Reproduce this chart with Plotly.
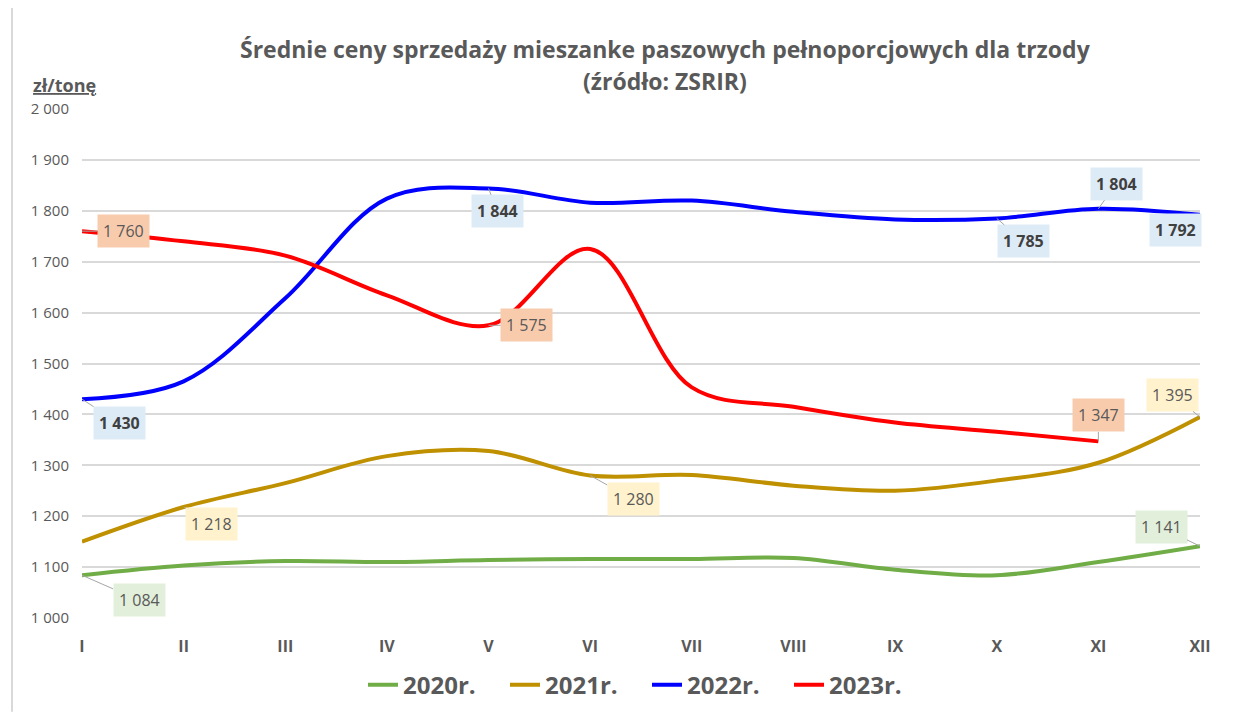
import plotly.graph_objects as go

months = ["I", "II", "III", "IV", "V", "VI", "VII", "VIII", "IX", "X", "XI", "XII"]
y2020 = [1084, 1103, 1112, 1110, 1114, 1116, 1116, 1118, 1095, 1084, 1110, 1141]
y2021 = [1150, 1218, 1265, 1318, 1328, 1280, 1281, 1260, 1250, 1270, 1305, 1395]
y2022 = [1430, 1465, 1628, 1824, 1844, 1816, 1820, 1798, 1783, 1785, 1804, 1792]
y2023 = [1760, 1740, 1712, 1634, 1575, 1725, 1453, 1415, 1384, 1366, 1347]

series = [
    ("2020r.", y2020, "#70AD47"),
    ("2021r.", y2021, "#BF9000"),
    ("2022r.", y2022, "#0000FF"),
    ("2023r.", y2023, "#FF0000"),
]

# labelled points: (series index, month index, ax, ay)
label_specs = [
    (0, 0, 57, 25), (0, 11, -39, -19),
    (1, 1, 28, 17), (1, 5, 43, 24), (1, 11, -28, -22),
    (2, 0, 37, 24), (2, 4, 9, 23), (2, 9, 27, 23), (2, 10, 18, -25), (2, 11, -25, 15),
    (3, 0, 41, 0), (3, 4, 38, 0), (3, 10, 0, -26),
]
label_bg = ["#E2EFDA", "#FFF2CC", "#DDEBF7", "#F8CBAD"]

GRAY = "#595959"
FONT = "Open Sans"

# page is offset by the body margin; plot area in page px: x 80..1198, y 106..622
OFFX, OFFY = 6, 5
W, H = 1238 - OFFX, 717 - OFFY
L, T = 80 - OFFX, 106 - OFFY
R = W - (1198 - OFFX)
B = H - (622 - OFFY)
PW, PH = 1118, 516

fig = go.Figure()
for name, vals, col in series:
    fig.add_trace(go.Scatter(
        x=months[:len(vals)], y=vals, name="<b>%s</b>" % name, mode="lines",
        line=dict(color=col, width=4, shape="spline", smoothing=1.0),
        hoverinfo="x+y",
    ))

def fmt(v):
    return "{:,}".format(v).replace(",", " ")

annotations = []
for si, mi, ax, ay in label_specs:
    v = series[si][1][mi]
    txt = fmt(v)
    if si == 2:
        txt = "<b>%s</b>" % txt
    annotations.append(dict(
        x=months[mi], y=v, xref="x", yref="y", text=txt,
        showarrow=True, arrowhead=0, arrowwidth=1, arrowcolor="#A6A6A6",
        ax=ax, ay=ay, standoff=0,
        bgcolor=label_bg[si], borderpad=5,
        font=dict(family=FONT, size=16, color="#404040" if si == 2 else GRAY),
    ))

def px(xp):
    return (xp - 80) / PW

def py(yp):
    return 1 + (106 - yp) / PH

annotations += [
    dict(text="<b>Średnie ceny sprzedaży mieszanke paszowych pełnoporcjowych dla trzody</b>",
         xref="paper", yref="paper", x=px(663), y=py(45),
         xanchor="center", yanchor="middle", showarrow=False,
         font=dict(family=FONT, size=23, color=GRAY)),
    dict(text="<b>(źródło: ZSRIR)</b>",
         xref="paper", yref="paper", x=px(663), y=py(78),
         xanchor="center", yanchor="middle", showarrow=False,
         font=dict(family=FONT, size=23, color=GRAY)),
    dict(text="<b><u>zł/tonę</u></b>",
         xref="paper", yref="paper", x=px(62), y=py(82),
         xanchor="center", yanchor="middle", showarrow=False,
         font=dict(family=FONT, size=18, color=GRAY)),
]

fig.update_layout(
    width=W, height=H,
    margin=dict(l=L, r=R, t=T, b=B, pad=0),
    paper_bgcolor="white", plot_bgcolor="white",
    separators=", ",
    font=dict(family=FONT, color=GRAY),
    showlegend=True,
    legend=dict(orientation="h", x=px(645), xanchor="center",
                y=py(690), yanchor="middle",
                font=dict(family=FONT, size=24, color=GRAY),
                itemwidth=30, entrywidth=97, tracegroupgap=0),
    xaxis=dict(range=[0, 11], showgrid=False, zeroline=False,
               tickfont=dict(family=FONT, size=16, color=GRAY),
               tickprefix="<b>", ticksuffix="</b>",
               showline=False, ticks="", ticklabelstandoff=17),
    yaxis=dict(range=[1000, 2000], dtick=100, tickformat=",d",
               gridcolor="#D9D9D9", gridwidth=1.5, zeroline=False,
               showline=False, ticks="", ticklabelstandoff=12,
               tickfont=dict(family=FONT, size=15, color=GRAY)),
    annotations=annotations,
    shapes=[dict(type="line", xref="paper", yref="paper",
                 x0=px(10), x1=px(10), y0=py(717), y1=py(0),
                 line=dict(color="#D9D9D9", width=2))],
)

fig.write_html("out.html")
